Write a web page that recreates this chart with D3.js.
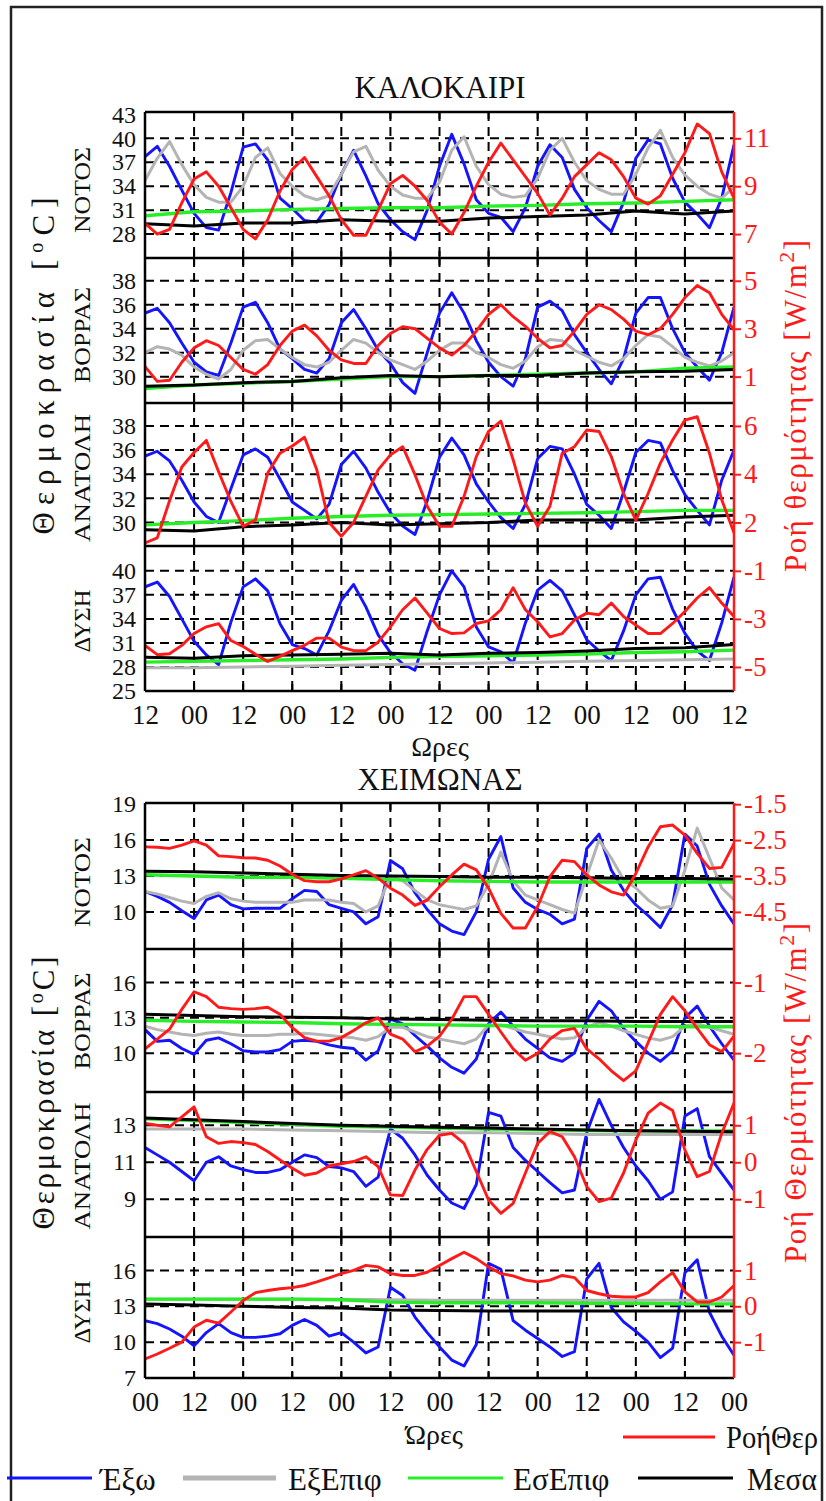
<!DOCTYPE html>
<html>
<head>
<meta charset="utf-8">
<script src="https://cdn.jsdelivr.net/npm/d3@7"></script>
<style>
  body { margin: 0; background: #fff; }
  svg { display: block; }
</style>
</head>
<body>
<svg id="chart" width="826" height="1501"></svg>
<script>
// ---- time grid (hours from start of record) ----
const hours3 = [0,3,6,9,12,15,18,21,24,27,30,33,36,39,42,45,48,51,54,57,60,63,66,69,72,75,78,81,84,87,90,93,96,99,102,105,108,111,114,117,120,123,126,129,132,135,138,141,144];
const hours12 = [0,12,24,36,48,60,72,84,96,108,120,132,144];
const summerTickLabels = ["12","00","12","00","12","00","12","00","12","00","12","00","12"];
const winterTickLabels = ["00","12","00","12","00","12","00","12","00","12","00","12","00"];

const seriesNames = ["Έξω", "ΕξΕπιφ", "ΕσΕπιφ", "Μεσα", "ΡοήΘερ"];

// ---- summer: south ----
const summerSouthOut = [37.7,39,36.5,33.5,30.6,28.8,28.5,33.2,38.9,39.3,37.3,32.5,31.2,29.7,29.5,31.7,35.5,38.5,35.3,31.8,29.8,28.3,27.3,31,36.5,40.5,36.8,32.3,30.6,30.1,28.3,31.3,36.5,39.2,37.6,33.6,31.3,29.7,28.3,32,37.5,39.8,39.3,35,32,30.5,28.8,32.5,39.2];
const summerSouthExt = [34.7,37.5,39.6,36.7,34.2,32.6,32,32,34,37.6,38.8,35.6,34,32.8,32.3,32.8,35.5,38.3,39,36,34,32.9,32.5,32.5,34.5,38.5,40.2,36.5,34.2,33,32.6,32.8,35,38.5,40,37,34.7,33.6,33,33,35.5,38.8,41,37.6,35.4,34,33,32.5,33.9];
const summerSouthInt = [30.3,30.8,30.9,31.1,31.2,31.3,31.3,31.5,31.6,31.8,31.9,32.1,32.3];
const summerSouthIn = [29.3,29.0,29.4,29.4,29.8,29.6,29.6,30.0,30.2,30.4,30.9,30.5,30.9];
const summerSouthFlux = [7.45,7.0,7.2,8.3,9.3,9.6,9.0,8.1,7.2,6.8,7.6,8.8,9.7,10.2,9.4,8.6,7.6,6.95,6.95,8.0,9.1,9.45,9.0,8.4,7.5,7.0,7.9,9.0,10.0,10.8,10.1,9.4,8.7,7.8,8.5,9.4,9.9,10.4,10.1,9.4,8.5,8.25,8.6,9.5,10.4,11.6,11.2,9.6,8.5];

// ---- summer: north ----
const summerNorthOut = [35.3,35.7,34.5,32.8,31.2,30.4,30.1,32.8,35.8,36.2,34.5,32.3,31.5,30.6,30.3,31.5,34.5,35.6,34.0,32.2,31.1,29.5,28.6,32,35.3,37,35.3,33,31.2,30,29.2,31.5,35.8,36.3,35.5,33.5,32,30.6,29.4,31.5,35.3,36.6,36.6,34,32,30.8,29.7,32,35.8];
const summerNorthExt = [32,32.5,32.3,31.8,30.8,30.2,29.8,30.6,32.2,33,33.1,32.3,31.6,31,30.8,31.2,32.2,33.1,32.8,32,31.4,31,30.6,31.3,32.2,32.8,32.8,32,31.6,31,30.7,31.3,32.5,33.1,33,32.2,31.7,31.2,30.9,31.5,32.6,33.5,33.3,32.5,31.6,31.2,30.9,31.3,32];
const summerNorthInt = [29.0,29.3,29.45,29.6,29.8,30.0,30.0,30.1,30.2,30.3,30.4,30.7,30.8];
const summerNorthIn = [29.2,29.3,29.5,29.6,29.9,30.1,30.0,30.1,30.1,30.3,30.4,30.45,30.6];
const summerNorthFlux = [1.42,0.8,0.85,1.6,2.2,2.5,2.3,1.8,1.3,1.1,1.5,2.3,2.9,3.15,2.7,2.1,1.7,1.55,1.55,2.3,2.8,3.08,3.0,2.6,2.2,1.9,2.3,2.9,3.6,4.0,3.5,3.1,2.6,2.2,2.3,2.9,3.6,4.0,3.8,3.4,2.9,2.75,3.0,3.6,4.3,4.8,4.5,3.6,2.95];

// ---- summer: east ----
const summerEastOut = [35.5,35.9,35.1,33.5,31.7,30.5,30.0,32.8,35.6,36.1,35.4,33.6,31.7,31.0,30.3,31.5,34.8,35.9,34.5,32.5,30.8,29.7,29.0,31.8,35.4,37.0,35.6,33.2,31.7,30.4,29.5,31.5,35.3,36.3,36.1,34.0,31.5,30.6,29.5,32.5,35.8,36.8,36.6,34.3,32.3,31.0,29.8,33.5,36];
const summerEastInt = [29.8,30.0,30.15,30.35,30.5,30.6,30.65,30.7,30.75,30.8,30.9,31.0,31.0];
const summerEastIn = [29.4,29.3,29.65,29.8,30.0,29.8,29.9,30.0,30.2,30.2,30.2,30.45,30.6];
const summerEastFlux = [1.15,1.36,2.9,4.3,4.9,5.4,4.1,2.87,1.84,2.1,4.05,4.87,5.17,5.53,4.18,2.0,1.43,2.0,3.08,4.18,4.8,5.14,3.98,2.67,1.84,1.84,3.08,4.73,5.77,6.2,4.6,2.8,1.84,2.67,4.87,5.14,5.83,5.77,4.73,3.2,2.1,3.2,4.46,5.42,6.24,6.38,4.87,2.94,1.57];

// ---- summer: west ----
const summerWestOut = [38,38.6,36.8,34,31.2,29.5,28.3,33.6,38,39,37.5,33.4,30.8,30.3,29.5,32.5,36.3,38.3,35.5,32,29.8,28.4,27.6,32.5,37,40,38,33,30.5,29.9,28.5,33.5,37.6,38.8,37.5,34.5,31.4,30,28.8,32.5,37,39,39.2,35.2,32.2,30,28.8,33.5,39.2];
const summerWestExt = [27.9,27.9,28.0,28.1,28.2,28.3,28.4,28.5,28.6,28.7,28.8,28.9,29.0];
const summerWestInt = [28.6,28.7,28.8,28.9,29.0,29.2,29.3,29.4,29.5,29.6,29.8,29.9,30.1];
const summerWestIn = [29.2,29.1,29.4,29.5,29.6,29.7,29.5,29.7,29.8,30.0,30.3,30.4,30.8];
const summerWestFlux = [-4.1,-4.49,-4.45,-4.1,-3.61,-3.33,-3.2,-3.9,-4.15,-4.47,-4.77,-4.56,-4.32,-4.1,-3.8,-3.8,-4.17,-4.32,-4.32,-3.97,-3.33,-2.62,-2.13,-2.76,-3.4,-3.61,-3.58,-3.19,-3.08,-2.62,-1.7,-2.62,-3.12,-3.75,-3.61,-3.05,-2.76,-2.83,-2.34,-2.9,-3.26,-3.61,-3.61,-3.19,-2.69,-2.13,-1.7,-2.34,-2.9];

// ---- winter: south ----
const winterSouthOut = [11.7,11.3,10.8,10.1,9.45,11.0,11.4,10.6,10.25,10.3,10.3,10.3,11.1,11.8,11.7,10.6,10.3,10.0,9.0,9.6,14.3,13.6,11.6,10.2,9.0,8.4,8.1,10.0,14.4,16.3,12.0,10.8,10.2,9.8,9.0,9.4,15.3,16.5,13.5,11.8,10.6,9.7,8.7,10.6,16.5,15.5,12.3,10.5,9.0];
const winterSouthExt = [11.7,11.5,11.2,10.9,10.7,11.3,11.6,11.1,10.9,10.8,10.8,10.8,10.8,11.0,11.0,11.0,10.8,10.7,10.0,10.5,13.0,12.6,11.8,11.0,10.6,10.4,10.2,10.5,12.3,15.0,12.6,11.4,11.0,10.6,10.2,9.9,13.0,16.0,14.5,12.7,12.0,11.0,10.3,10.5,13.5,17.0,14.5,12.0,11.0];
const winterSouthInt = [13.1,13.0,12.9,12.9,12.8,12.7,12.6,12.55,12.5,12.5,12.5,12.5,12.5];
const winterSouthIn = [13.4,13.35,13.25,13.15,13.05,13.0,12.95,12.9,12.9,12.85,12.8,12.8,12.75];
const winterSouthFlux = [-2.69,-2.7,-2.73,-2.64,-2.52,-2.64,-2.94,-2.96,-2.99,-3.0,-3.06,-3.22,-3.45,-3.63,-3.66,-3.66,-3.58,-3.47,-3.35,-3.56,-3.84,-4.03,-4.32,-4.17,-3.8,-3.47,-3.17,-3.33,-3.84,-4.54,-4.95,-4.95,-4.35,-3.52,-3.06,-3.1,-3.47,-3.75,-3.94,-4.03,-3.43,-2.69,-2.13,-2.08,-2.36,-2.87,-3.29,-3.26,-2.6];

// ---- winter: north ----
const winterNorthOut = [12.0,11.0,11.1,10.4,9.9,11.1,11.3,10.8,10.2,10.1,10.1,10.3,11.0,11.1,11.0,10.7,10.5,10.4,9.4,10.2,12.9,12.5,11.5,10.6,9.6,8.8,8.3,9.5,12.5,13.5,12.3,11.2,10.4,9.6,9.3,10.0,12.8,14.4,13.6,12.1,11.0,10.0,9.3,10.2,13.0,14.0,12.3,10.8,9.4];
const winterNorthExt = [12.3,12.0,11.8,11.6,11.5,11.7,11.8,11.6,11.5,11.5,11.5,11.6,11.6,11.7,11.6,11.5,11.4,11.3,11.1,11.4,12.2,12.2,11.8,11.4,11.2,11.0,10.8,11.2,12.4,12.4,12.1,11.8,11.6,11.4,11.2,11.3,12.2,12.6,12.3,11.9,11.6,11.3,11.1,11.4,12.3,12.5,12.2,11.9,11.6];
const winterNorthInt = [12.8,12.7,12.65,12.6,12.5,12.45,12.4,12.35,12.3,12.3,12.3,12.25,12.25];
const winterNorthIn = [13.3,13.2,13.1,13.05,13.0,12.9,12.85,12.8,12.75,12.75,12.7,12.7,12.7];
const winterNorthFlux = [-1.94,-1.8,-1.66,-1.38,-1.13,-1.2,-1.35,-1.37,-1.38,-1.37,-1.35,-1.45,-1.64,-1.78,-1.83,-1.83,-1.78,-1.68,-1.57,-1.5,-1.73,-1.8,-1.98,-1.9,-1.76,-1.52,-1.2,-1.2,-1.45,-1.7,-1.94,-2.1,-2.0,-1.8,-1.68,-1.65,-1.94,-2.08,-2.25,-2.39,-2.25,-1.85,-1.45,-1.2,-1.4,-1.65,-1.88,-1.98,-1.76];

// ---- winter: east ----
const winterEastOut = [11.8,11.4,11.0,10.5,10.0,11.0,11.3,10.8,10.6,10.45,10.45,10.6,11.0,11.4,11.25,10.77,10.7,10.5,9.7,10.2,12.8,12.3,11.4,10.3,9.5,8.8,8.5,9.8,13.7,13.5,11.8,11.1,10.5,9.9,9.35,9.5,12.6,14.4,13.0,11.8,10.8,10.0,9.0,9.4,13.5,13.9,11.3,10.4,9.5];
const winterEastExt = [12.8,12.8,12.8,12.75,12.7,12.65,12.6,12.6,12.55,12.5,12.5,12.5,12.5];
const winterEastInt = [13.35,13.25,13.15,13.05,12.95,12.9,12.85,12.8,12.75,12.72,12.7,12.7,12.7];
const winterEastIn = [13.4,13.3,13.2,13.1,13.0,12.95,12.9,12.85,12.8,12.75,12.7,12.68,12.65];
const winterEastFlux = [1.05,1.0,0.96,1.23,1.5,0.69,0.51,0.56,0.53,0.48,0.29,0.06,-0.16,-0.35,-0.29,-0.1,-0.04,0.02,0.15,-0.12,-0.88,-0.9,-0.21,0.35,0.73,0.78,0.51,-0.25,-1.02,-1.38,-1.11,-0.29,0.51,0.83,0.69,0.15,-0.66,-1.06,-0.97,-0.29,0.6,1.33,1.6,1.4,0.33,-0.39,-0.25,0.78,1.6];

// ---- winter: west ----
const winterWestOut = [11.8,11.55,11.1,10.5,9.7,10.8,11.55,10.8,10.4,10.4,10.5,10.7,11.4,11.9,11.4,10.5,10.8,10.0,9.1,9.6,14.6,13.9,12.1,10.8,9.6,8.5,8.0,9.8,16.6,16.1,11.8,11.0,10.3,9.6,8.8,9.2,15.3,16.6,12.9,11.7,10.9,10.0,8.7,9.5,15.8,16.9,12.5,10.5,8.9];
const winterWestExt = [13.6,13.6,13.6,13.6,13.6,13.55,13.5,13.5,13.5,13.5,13.5,13.5,13.5];
const winterWestInt = [13.6,13.6,13.6,13.6,13.55,13.35,13.3,13.3,13.3,13.25,13.25,13.2,13.2];
const winterWestIn = [13.2,13.1,13.0,12.9,12.85,12.7,12.65,12.6,12.6,12.6,12.6,12.6,12.6];
const winterWestFlux = [-1.47,-1.33,-1.17,-1.0,-0.58,-0.39,-0.47,-0.16,0.16,0.38,0.44,0.49,0.52,0.58,0.68,0.79,0.91,1.0,1.14,1.1,0.91,0.86,0.86,0.95,1.14,1.33,1.51,1.33,1.1,0.91,0.85,0.73,0.68,0.73,0.86,0.8,0.44,0.35,0.28,0.26,0.26,0.38,0.68,0.94,0.4,0.12,0.12,0.26,0.58];

// ---- layout ----
const X0 = 145, X1 = 734;
const FONT = '"Liberation Serif"';
const COLORS = { out: "#1414ff", ext: "#b4b4b4", int: "#27ee27", inn: "#000000", flux: "#ff1a1a" };
const WIDTHS = { out: 2.9, ext: 3, int: 3.4, inn: 3, flux: 2.9 };
const ORDER = ["out", "ext", "int", "inn", "flux"];

const seasons = [
  { title: "ΚΑΛΟΚΑΙΡΙ", titleY: 98, top: 112, bottom: 691, ticks: summerTickLabels,
    xTitle: "Ωρες", xTitleX: 440, xTitleY: 756,
    yLabel: "Θερμοκρασία [", yLabelY: 366, yLabelLen: 337,
    fLabel: "Ροή θερμότητας [W/m", fLabelY: 406, fLabelLen: 332 },
  { title: "ΧΕΙΜΩΝΑΣ", titleY: 790, top: 803, bottom: 1378, ticks: winterTickLabels,
    xTitle: "Ώρες", xTitleX: 434, xTitleY: 1444,
    yLabel: "Θερμοκρασία [", yLabelY: 1093, yLabelLen: 273,
    fLabel: "Ροή Θερμότητας [W/m", fLabelY: 1093, fLabelLen: 340 }
];

const panels = [
  { season: 0, name: "ΝΟΤΟΣ", top: 112, bottom: 258, tDom: [25, 43.3], fDom: [6.0, 12.1],
    tTicks: [28,31,34,37,40,43], tGrid: [28,31,34,37,40], fTicks: [7,9,11], nameY: 190, nameLen: 86,
    data: { out: summerSouthOut, ext: summerSouthExt, int: summerSouthInt, inn: summerSouthIn, flux: summerSouthFlux } },
  { season: 0, name: "ΒΟΡΡΑΣ", top: 258, bottom: 403, tDom: [27.8, 39.9], fDom: [-0.1, 5.95],
    tTicks: [30,32,34,36,38], tGrid: [30,32,34,36,38], fTicks: [1,3,5], nameY: 335, nameLen: 96,
    data: { out: summerNorthOut, ext: summerNorthExt, int: summerNorthInt, inn: summerNorthIn, flux: summerNorthFlux } },
  { season: 0, name: "ΑΝΑΤΟΛΗ", top: 403, bottom: 546, tDom: [28.05, 39.9], fDom: [1.025, 6.95],
    tTicks: [30,32,34,36,38], tGrid: [30,32,34,36,38], fTicks: [2,4,6], nameY: 478, nameLen: 128,
    data: { out: summerEastOut, int: summerEastInt, inn: summerEastIn, flux: summerEastFlux } },
  { season: 0, name: "ΔΥΣΗ", top: 546, bottom: 691, tDom: [25, 43.1], fDom: [-6.0, 0.033],
    tTicks: [25,28,31,34,37,40], tGrid: [28,31,34,37,40], fTicks: [-5,-3,-1], nameY: 621, nameLen: 63,
    data: { out: summerWestOut, ext: summerWestExt, int: summerWestInt, inn: summerWestIn, flux: summerWestFlux } },
  { season: 1, name: "ΝΟΤΟΣ", top: 803, bottom: 949, tDom: [6.9, 19.1], fDom: [-5.533, -1.467],
    tTicks: [10,13,16,19], tGrid: [10,13,16], fTicks: [-4.5,-3.5,-2.5,-1.5], nameY: 882, nameLen: 90,
    data: { out: winterSouthOut, ext: winterSouthExt, int: winterSouthInt, inn: winterSouthIn, flux: winterSouthFlux } },
  { season: 1, name: "ΒΟΡΡΑΣ", top: 949, bottom: 1092, tDom: [6.7, 18.85], fDom: [-2.55, -0.525],
    tTicks: [10,13,16], tGrid: [10,13,16], fTicks: [-2,-1], nameY: 1021, nameLen: 97,
    data: { out: winterNorthOut, ext: winterNorthExt, int: winterNorthInt, inn: winterNorthIn, flux: winterNorthFlux } },
  { season: 1, name: "ΑΝΑΤΟΛΗ", top: 1092, bottom: 1237, tDom: [6.96, 14.8], fDom: [-2.02, 1.9],
    tTicks: [9,11,13], tGrid: [9,11,13], fTicks: [-1,0,1], nameY: 1166, nameLen: 127,
    data: { out: winterEastOut, ext: winterEastExt, int: winterEastInt, inn: winterEastIn, flux: winterEastFlux } },
  { season: 1, name: "ΔΥΣΗ", top: 1237, bottom: 1378, tDom: [7.0, 18.8], fDom: [-2.0, 1.933],
    tTicks: [7,10,13,16], tGrid: [10,13,16], fTicks: [-1,0,1], nameY: 1312, nameLen: 63,
    data: { out: winterWestOut, ext: winterWestExt, int: winterWestInt, inn: winterWestIn, flux: winterWestFlux } }
];

const svg = d3.select("#chart");
const defs = svg.append("defs");
const x = d3.scaleLinear().domain([0, 144]).range([X0, X1]);

// outer frame
svg.append("rect").attr("x", 11).attr("y", 7).attr("width", 811).attr("height", 1560)
  .attr("fill", "none").attr("stroke", "#222").attr("stroke-width", 2.5);

function fmtTick(d) { return d < 0 ? "-" + Math.abs(d) : String(d); }

function styleText(sel, size, color) {
  sel.attr("font-family", null).attr("font-size", null)
     .style("font-family", FONT)
     .style("font-size", size + "px")
     .attr("fill", color);
  return sel;
}

panels.forEach((p, i) => {
  const g = svg.append("g");
  const yT = d3.scaleLinear().domain(p.tDom).range([p.bottom, p.top]);
  const yF = d3.scaleLinear().domain(p.fDom).range([p.bottom, p.top]);

  defs.append("clipPath").attr("id", "plot" + i).append("rect")
    .attr("x", X0).attr("y", p.top).attr("width", X1 - X0).attr("height", p.bottom - p.top);

  // dashed grid
  g.append("g").selectAll("line").data(p.tGrid).join("line")
    .attr("x1", X0).attr("x2", X1).attr("y1", d => yT(d)).attr("y2", d => yT(d))
    .attr("stroke", "#000").attr("stroke-width", 2).attr("stroke-dasharray", "9,6");
  g.append("g").selectAll("line").data(hours12.slice(1, -1)).join("line")
    .attr("x1", d => x(d)).attr("x2", d => x(d)).attr("y1", p.top).attr("y2", p.bottom)
    .attr("stroke", "#000").attr("stroke-width", 2).attr("stroke-dasharray", "9,6");
  // inward ticks on panel edges
  g.append("g").selectAll("path").data(hours12.slice(1, -1)).join("path")
    .attr("d", d => `M${x(d)},${p.top}v7M${x(d)},${p.bottom}v-7`)
    .attr("stroke", "#000").attr("stroke-width", 2);

  // series
  const lg = g.append("g").attr("clip-path", `url(#plot${i})`);
  ORDER.forEach(k => {
    const vals = p.data[k];
    if (!vals) return;
    const hrs = vals.length === hours3.length ? hours3 : hours12;
    const ys = k === "flux" ? yF : yT;
    lg.append("path").datum(vals)
      .attr("d", d3.line().x((d, j) => x(hrs[j])).y(d => ys(d)))
      .attr("fill", "none").attr("stroke", COLORS[k]).attr("stroke-width", WIDTHS[k])
      .attr("stroke-linejoin", "round");
  });

  // left axis labels
  const la = g.append("g").attr("transform", `translate(${X0},0)`)
    .call(d3.axisLeft(yT).tickValues(p.tTicks).tickSize(0).tickPadding(9).tickFormat(fmtTick));
  la.attr("font-family", null).attr("font-size", null);
  la.select(".domain").remove();
  styleText(la.selectAll("text"), 24, "#111");

  // right axis (heat flux)
  const ra = g.append("g").attr("transform", `translate(${X1},0)`)
    .call(d3.axisRight(yF).tickValues(p.fTicks).tickSize(7).tickPadding(3).tickFormat(fmtTick));
  ra.attr("font-family", null).attr("font-size", null);
  ra.select(".domain").remove();
  ra.selectAll("line").attr("stroke", "#ff1a1a").attr("stroke-width", 2);
  styleText(ra.selectAll("text"), 27, "#ff1a1a");

  // panel name
  const nm = g.append("text").attr("transform", `translate(90,${p.nameY}) rotate(-90)`)
    .attr("text-anchor", "middle")
    .attr("textLength", p.nameLen).attr("lengthAdjust", "spacingAndGlyphs")
    .text(p.name);
  styleText(nm, 24, "#111");

  // panel top edge
  g.append("line").attr("x1", X0).attr("x2", X1).attr("y1", p.top).attr("y2", p.top)
    .attr("stroke", "#000").attr("stroke-width", 2.5);
});

seasons.forEach((s, si) => {
  const g = svg.append("g");
  // frame: left, bottom (black), right (red)
  g.append("line").attr("x1", X0).attr("x2", X0).attr("y1", s.top).attr("y2", s.bottom)
    .attr("stroke", "#000").attr("stroke-width", 2.5);
  g.append("line").attr("x1", X0).attr("x2", X1).attr("y1", s.bottom).attr("y2", s.bottom)
    .attr("stroke", "#000").attr("stroke-width", 2.5);
  g.append("line").attr("x1", X1).attr("x2", X1).attr("y1", s.top).attr("y2", s.bottom)
    .attr("stroke", "#ff1a1a").attr("stroke-width", 2.5);

  // hour axis
  const xa = g.append("g").attr("transform", `translate(0,${s.bottom})`)
    .call(d3.axisBottom(x).tickValues(hours12).tickSize(0).tickPadding(14)
      .tickFormat((d, i) => s.ticks[i]));
  xa.attr("font-family", null).attr("font-size", null);
  xa.select(".domain").remove();
  styleText(xa.selectAll("text"), 27, "#111");

  styleText(g.append("text").attr("x", s.xTitleX).attr("y", s.xTitleY).attr("text-anchor", "middle")
    .text(s.xTitle), 28, "#111");

  // season title
  styleText(g.append("text").attr("x", 440).attr("y", s.titleY).attr("text-anchor", "middle")
    .text(s.title), 31, "#111");

  // temperature axis title
  const yl = g.append("text").attr("transform", `translate(54,${s.yLabelY}) rotate(-90)`)
    .attr("text-anchor", "middle")
    .attr("textLength", s.yLabelLen).attr("lengthAdjust", "spacing");
  styleText(yl, 31, "#111");
  yl.append("tspan").text(s.yLabel);
  yl.append("tspan").attr("baseline-shift", "super").style("font-size", "20px").text("o");
  yl.append("tspan").text("C]");

  // heat flux axis title
  const fl = g.append("text").attr("transform", `translate(806,${s.fLabelY}) rotate(-90)`)
    .attr("text-anchor", "middle")
    .attr("textLength", s.fLabelLen).attr("lengthAdjust", "spacing");
  styleText(fl, 31, "#ff1a1a");
  fl.append("tspan").text(s.fLabel);
  fl.append("tspan").attr("baseline-shift", "super").style("font-size", "22px").text("2");
  fl.append("tspan").text("]");
});

// legend
const legendItems = [
  { key: "flux", x1: 623, x2: 715, y: 1437, tx: 726, ty: 1448, len: 92 },
  { key: "out", x1: 7, x2: 92, y: 1478, tx: 100, ty: 1490, len: 0 },
  { key: "ext", x1: 183, x2: 276, y: 1478, tx: 288, ty: 1490, len: 0 },
  { key: "int", x1: 408, x2: 503, y: 1478, tx: 513, ty: 1490, len: 0 },
  { key: "inn", x1: 638, x2: 733, y: 1478, tx: 747, ty: 1490, len: 70 }
];
const legend = svg.append("g");
legendItems.forEach(it => {
  const name = seriesNames[ORDER.indexOf(it.key)];
  legend.append("line").attr("x1", it.x1).attr("x2", it.x2).attr("y1", it.y).attr("y2", it.y)
    .attr("stroke", COLORS[it.key]).attr("stroke-width", it.key === "ext" ? 5 : 3.2);
  const t = legend.append("text").attr("x", it.tx).attr("y", it.ty).text(name);
  if (it.len) t.attr("textLength", it.len).attr("lengthAdjust", "spacingAndGlyphs");
  styleText(t, 31, "#111");
});
</script>
</body>
</html>
